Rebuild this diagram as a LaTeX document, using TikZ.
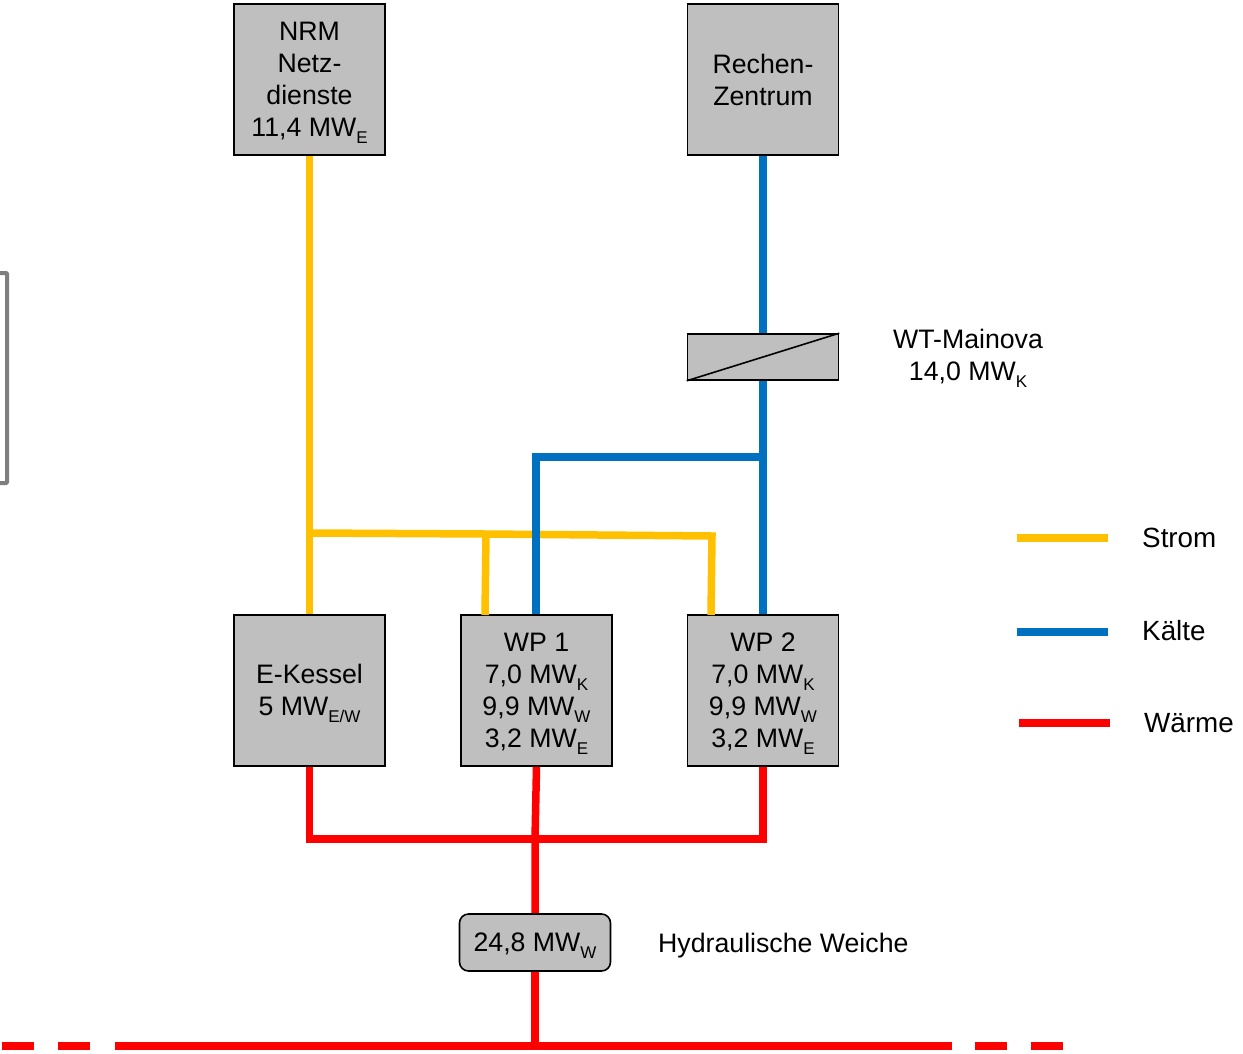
\documentclass[tikz,border=0pt]{standalone}
\usepackage{fontspec}
\setmainfont{Liberation Sans}
\newcommand{\sbs}[1]{\raisebox{-7pt}{\fontsize{17}{17}\selectfont #1}}
\newcommand{\topadj}{\rule{0pt}{25pt}}
\definecolor{strom}{HTML}{FFC000}
\definecolor{kaelte}{HTML}{0070C0}
\definecolor{waerme}{HTML}{FF0000}
\definecolor{boxfill}{HTML}{BFBFBF}
\definecolor{edgegray}{HTML}{7F7F7F}
\tikzset{
  unit/.style={draw=black,fill=boxfill,line width=1.6pt,inner sep=0pt,align=center,text=black,
    font=\fontsize{26.7}{32}\selectfont},
  bigbox/.style={unit,minimum width=151pt,minimum height=151pt},
  wtbox/.style={unit,minimum width=151pt,minimum height=46pt},
  hwbox/.style={unit,rounded corners=9pt,minimum width=151pt,minimum height=57pt},
  lbl/.style={inner sep=0pt,align=center,text=black,font=\fontsize{26.7}{32}\selectfont},
  legendlbl/.style={inner sep=0pt,text=black,font=\fontsize{27.8}{32}\selectfont},
  strompipe/.style={draw=strom,line width=7.5pt},
  kaeltepipe/.style={draw=kaelte,line width=7.5pt},
  waermepipe/.style={draw=waerme,line width=7.5pt},
  buspipe/.style={draw=waerme,line width=8pt},
}
\begin{document}
\begin{tikzpicture}[x=1pt,y=-1pt]
\useasboundingbox (0,0) rectangle (1243,1053);
% junctions and free ends
\coordinate (sA) at (309.5,533);
\coordinate (sB) at (486,534);
\coordinate (sC) at (712,536);
\coordinate (kA) at (763,457);
\coordinate (kB) at (536,457);
\coordinate (wA) at (309.5,839);
\coordinate (wB) at (763,839);
\coordinate (wC) at (535,839);
\coordinate (busJ) at (535,1046);
\coordinate (b1a) at (2,1046);   \coordinate (b1b) at (34,1046);
\coordinate (b2a) at (58,1046);  \coordinate (b2b) at (90,1046);
\coordinate (b3a) at (115,1046); \coordinate (b3b) at (952,1046);
\coordinate (b4a) at (975,1046); \coordinate (b4b) at (1007,1046);
\coordinate (b5a) at (1031,1046);\coordinate (b5b) at (1063,1046);
\coordinate (lsA) at (1017,538); \coordinate (lsB) at (1108,538);
\coordinate (lkA) at (1017,632); \coordinate (lkB) at (1108,632);
\coordinate (lwA) at (1019,723); \coordinate (lwB) at (1110,723);
\coordinate (f1) at (-3,273); \coordinate (f2) at (7,273);
\coordinate (f3) at (7,483);  \coordinate (f4) at (-3,483);
% partial box at the left edge
\draw[edgegray,line width=4pt,rounded corners=1pt] (f1) -- (f2) -- (f3) -- (f4);
% boxes
\node[bigbox] (nrm) at (309.5,79.5) {\topadj NRM\\Netz-\\dienste\\11,4 MW\sbs{E}};
\node[bigbox] (rz) at (763,79.5) {Rechen-\\Zentrum};
\node[wtbox] (wt) at (763,357) {};
\node[bigbox] (ek) at (309.5,690.5) {\topadj E-Kessel\\5 MW\sbs{E/W}};
\node[bigbox] (wp1) at (536.5,690.5) {\topadj WP 1\\7,0 MW\sbs{K}\\9,9 MW\sbs{W}\\3,2 MW\sbs{E}};
\node[bigbox] (wp2) at (763,690.5) {\topadj WP 2\\7,0 MW\sbs{K}\\9,9 MW\sbs{W}\\3,2 MW\sbs{E}};
\node[hwbox] (hw) at (535,942.5) {\topadj 24,8 MW\sbs{W}};
\draw[black,line width=1.6pt] (wt.south west) -- (wt.north east);
% Strom
\draw[strompipe] (nrm.south) -- (ek.north);
\draw[strompipe] (sA) -- (sB) -- (sC) -- (711,615);
\draw[strompipe] (sB) -- (485,615);
% Kaelte
\draw[kaeltepipe] (rz.south) -- (wt.north);
\draw[kaeltepipe] (wt.south) -- (wp2.north);
\draw[kaeltepipe] (kA) -- (kB) -- (kB |- wp1.north);
% Waerme
\draw[waermepipe] (ek.south) -- (wA) -- (wB) -- (wp2.south);
\draw[waermepipe] (wp1.south) -- (wC) -- (hw.north);
\draw[waermepipe] (hw.south) -- (busJ);
\draw[buspipe] (b1a) -- (b1b);
\draw[buspipe] (b2a) -- (b2b);
\draw[buspipe] (b3a) -- (b3b);
\draw[buspipe] (b4a) -- (b4b);
\draw[buspipe] (b5a) -- (b5b);
% legend
\draw[strompipe] (lsA) -- (lsB);
\draw[kaeltepipe] (lkA) -- (lkB);
\draw[waermepipe] (lwA) -- (lwB);
\node[legendlbl,anchor=west] (tS) at (1142,538) {Strom};
\node[legendlbl,anchor=west] (tK) at (1142,631) {Kälte};
\node[legendlbl,anchor=west] (tW) at (1144,723) {Wärme};
\node[lbl] (tWT) at (968,358) {WT-Mainova\\14,0 MW\sbs{K}};
\node[lbl,anchor=west] (tHW) at (658,946) {Hydraulische Weiche};
\end{tikzpicture}
\end{document}
